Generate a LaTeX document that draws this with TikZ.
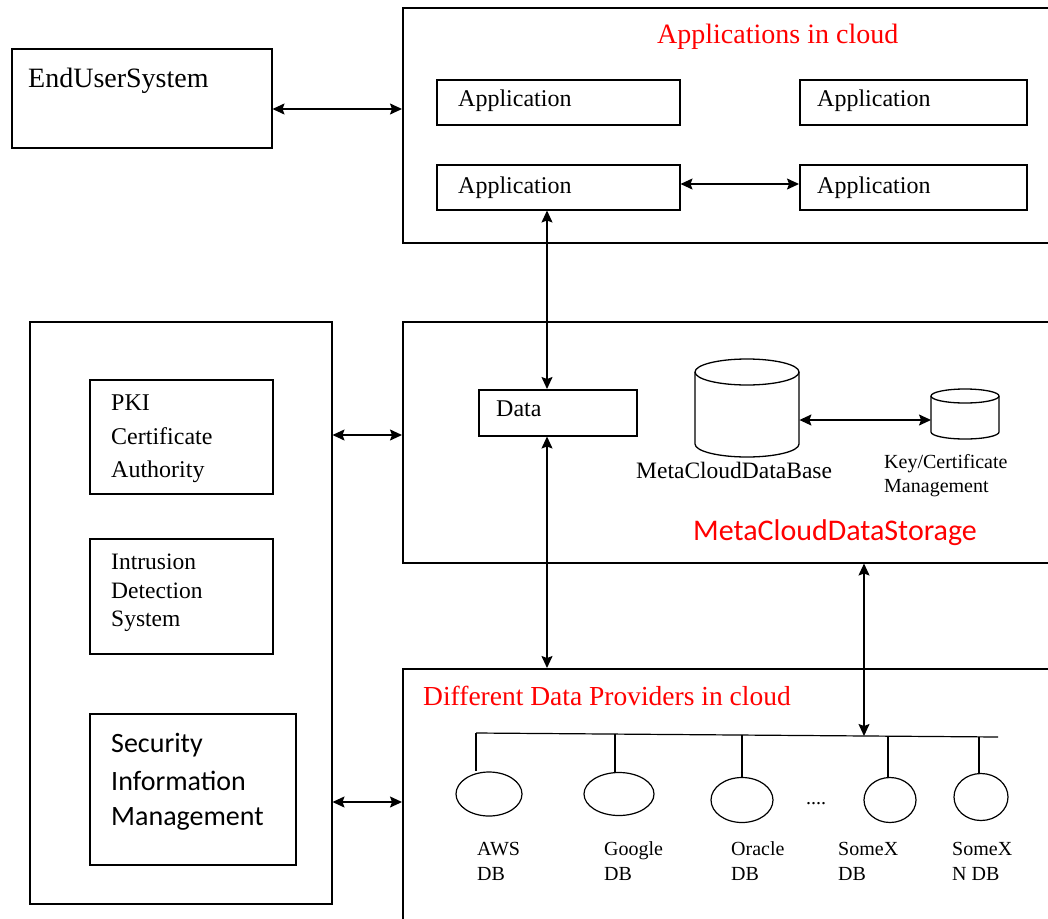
\documentclass[tikz,border=0pt]{standalone}
\usepackage{fontspec}
\setmainfont{Liberation Serif}
\newfontfamily\calib{Carlito}
\usetikzlibrary{arrows.meta,shapes.geometric}
\definecolor{tred}{RGB}{255,0,0}
\begin{document}
\begin{tikzpicture}[x=1pt,y=-1pt,
  box/.style={draw,line width=1.5pt,inner sep=0pt,anchor=north west},
  lbl/.style={inner sep=0pt,anchor=base west},
  ghost/.style={inner sep=0pt,anchor=north west},
  arr/.style={line width=1.4pt,{Stealth[length=12pt,width=11pt,inset=2pt]}-{Stealth[length=12pt,width=11pt,inset=2pt]}},
  thinl/.style={line width=1.2pt},
  prov/.style={ellipse,draw,line width=1.2pt,inner sep=0pt}]
\useasboundingbox (0,0) rectangle (1048,918);
\clip (0,0) rectangle (1048,918);

% containers and boxes
\node[box,minimum width=260pt,minimum height=99pt] (eus) at (11,48) {};
\node[box,minimum width=660pt,minimum height=235pt] (apps) at (402,7) {};
\node[box,minimum width=243pt,minimum height=45pt] (app1) at (436,79) {};
\node[box,minimum width=227pt,minimum height=45pt] (app2) at (799,79) {};
\node[box,minimum width=243pt,minimum height=45pt] (app3) at (436,164) {};
\node[box,minimum width=227pt,minimum height=45pt] (app4) at (799,164) {};
\node[box,minimum width=660pt,minimum height=241pt] (store) at (402,321) {};
\node[box,minimum width=158pt,minimum height=46pt] (data) at (478,389) {};
\node[box,minimum width=302pt,minimum height=582pt] (sec) at (29,321) {};
\node[box,minimum width=183pt,minimum height=114pt] (pki) at (89,379) {};
\node[box,minimum width=183pt,minimum height=115pt] (ids) at (89,538) {};
\node[box,minimum width=206pt,minimum height=151pt] (sim) at (89,713) {};
\node[box,minimum width=660pt,minimum height=270pt] (provs) at (402,668) {};

% cylinders
\node[ghost,minimum width=104pt,minimum height=98pt] (mcdb) at (695,359) {};
\draw[line width=1.3pt] (747,372) ellipse [x radius=52pt, y radius=13pt];
\draw[line width=1.3pt] (695,372) -- (695,444) arc[start angle=180,end angle=360,x radius=52pt,y radius=13pt] -- (799,372);
\node[ghost,minimum width=68pt,minimum height=50pt] (kcm) at (931,389) {};
\draw[line width=1.3pt] (965,396) ellipse [x radius=34pt, y radius=7pt];
\draw[line width=1.3pt] (931,396) -- (931,432) arc[start angle=180,end angle=360,x radius=34pt,y radius=7pt] -- (999,396);

% provider ellipses
\node[prov,minimum width=66pt,minimum height=44pt] (aws) at (489,794) {};
\node[prov,minimum width=70pt,minimum height=43pt] (goo) at (619,794) {};
\node[prov,minimum width=62pt,minimum height=45pt] (ora) at (742,800) {};
\node[prov,minimum width=52pt,minimum height=45pt] (sx) at (890,800) {};
\node[prov,minimum width=54pt,minimum height=47pt] (sxn) at (981,797) {};

% bus
\coordinate (busL) at (476,733);
\coordinate (busR) at (998,737);
\draw[thinl] (busL) -- (busR);
\coordinate (dG) at (615,734.1);
\coordinate (dO) at (742,735);
\coordinate (dS) at (888,736.2);
\coordinate (dN) at (979,736.9);
\coordinate (dA) at (864,736);
\draw[thinl] (busL) -- (aws.north -| busL);
\draw[thinl] (dG) -- (goo.north -| dG);
\draw[thinl] (dO) -- (ora.north -| dO);
\draw[thinl] (dS) -- (sx.north -| dS);
\draw[thinl] (dN) -- (sxn.north -| dN);

% connectors
\coordinate (h1) at (0,109);
\coordinate (h2) at (0,184);
\coordinate (h3) at (0,420);
\coordinate (h4) at (0,435);
\coordinate (h5) at (0,802);
\coordinate (v1) at (547,0);
\draw[arr] (eus.east |- h1) -- (apps.west |- h1);
\draw[arr] (app3.east |- h2) -- (app4.west |- h2);
\draw[arr] (app3.south -| v1) -- (data.north -| v1);
\draw[arr] (data.south -| v1) -- (provs.north -| v1);
\draw[arr] (mcdb.east |- h3) -- (kcm.west |- h3);
\draw[arr] (sec.east |- h4) -- (store.west |- h4);
\draw[arr] (sec.east |- h5) -- (provs.west |- h5);
\draw[arr] (store.south -| dA) -- (dA);

% texts
\node[lbl,font=\fontsize{28}{32}\selectfont] (t1) at (28,87) {EndUserSystem};
\node[lbl,font=\fontsize{28}{32}\selectfont,text=tred] (t2) at (657,43) {Applications in cloud};
\node[lbl,font=\fontsize{24}{28}\selectfont] (t3) at (458,106) {Application};
\node[lbl,font=\fontsize{24}{28}\selectfont] (t4) at (817,106) {Application};
\node[lbl,font=\fontsize{24}{28}\selectfont] (t5) at (458,193) {Application};
\node[lbl,font=\fontsize{24}{28}\selectfont] (t6) at (817,193) {Application};
\node[lbl,font=\fontsize{24}{28}\selectfont] (t7) at (496,416) {Data};
\node[lbl,font=\fontsize{23.5}{28}\selectfont] (t8) at (636,478) {MetaCloudDataBase};
\node[lbl,font=\fontsize{20}{24}\selectfont] (t9) at (884,468) {Key/Certificate};
\node[lbl,font=\fontsize{20}{24}\selectfont] (t10) at (884,492) {Management};
\node[lbl,font=\calib\fontsize{30}{36}\selectfont,text=tred] (t11) at (693,540) {MetaCloudDataStorage};
\node[lbl,font=\fontsize{24}{28}\selectfont] (t12) at (111,410) {PKI};
\node[lbl,font=\fontsize{24}{28}\selectfont] (t13) at (111,444) {Certificate};
\node[lbl,font=\fontsize{24}{28}\selectfont] (t14) at (111,477) {Authority};
\node[lbl,font=\fontsize{23.5}{28}\selectfont] (t15) at (111,569) {Intrusion};
\node[lbl,font=\fontsize{23.5}{28}\selectfont] (t16) at (111,598) {Detection};
\node[lbl,font=\fontsize{23.5}{28}\selectfont] (t17) at (111,626) {System};
\node[lbl,font=\calib\fontsize{28}{34}\selectfont] (t18) at (111,752) {Security};
\node[lbl,font=\calib\fontsize{28}{34}\selectfont] (t19) at (111,790) {Information};
\node[lbl,font=\calib\fontsize{28}{34}\selectfont] (t20) at (111,825) {Management};
\node[lbl,font=\fontsize{27.5}{32}\selectfont,text=tred] (t21) at (423,705) {Different Data Providers in cloud};
\node[lbl,font=\fontsize{20}{24}\selectfont] (t22) at (806,804) {....};
\node[lbl,font=\fontsize{20}{24}\selectfont] (t23) at (477,855) {AWS};
\node[lbl,font=\fontsize{20}{24}\selectfont] (t24) at (477,880) {DB};
\node[lbl,font=\fontsize{20}{24}\selectfont] (t25) at (604,855) {Google};
\node[lbl,font=\fontsize{20}{24}\selectfont] (t26) at (604,880) {DB};
\node[lbl,font=\fontsize{20}{24}\selectfont] (t27) at (731,855) {Oracle};
\node[lbl,font=\fontsize{20}{24}\selectfont] (t28) at (731,880) {DB};
\node[lbl,font=\fontsize{20}{24}\selectfont] (t29) at (838,855) {SomeX};
\node[lbl,font=\fontsize{20}{24}\selectfont] (t30) at (838,880) {DB};
\node[lbl,font=\fontsize{20}{24}\selectfont] (t31) at (952,855) {SomeX};
\node[lbl,font=\fontsize{20}{24}\selectfont] (t32) at (952,880) {N DB};
\end{tikzpicture}
\end{document}
